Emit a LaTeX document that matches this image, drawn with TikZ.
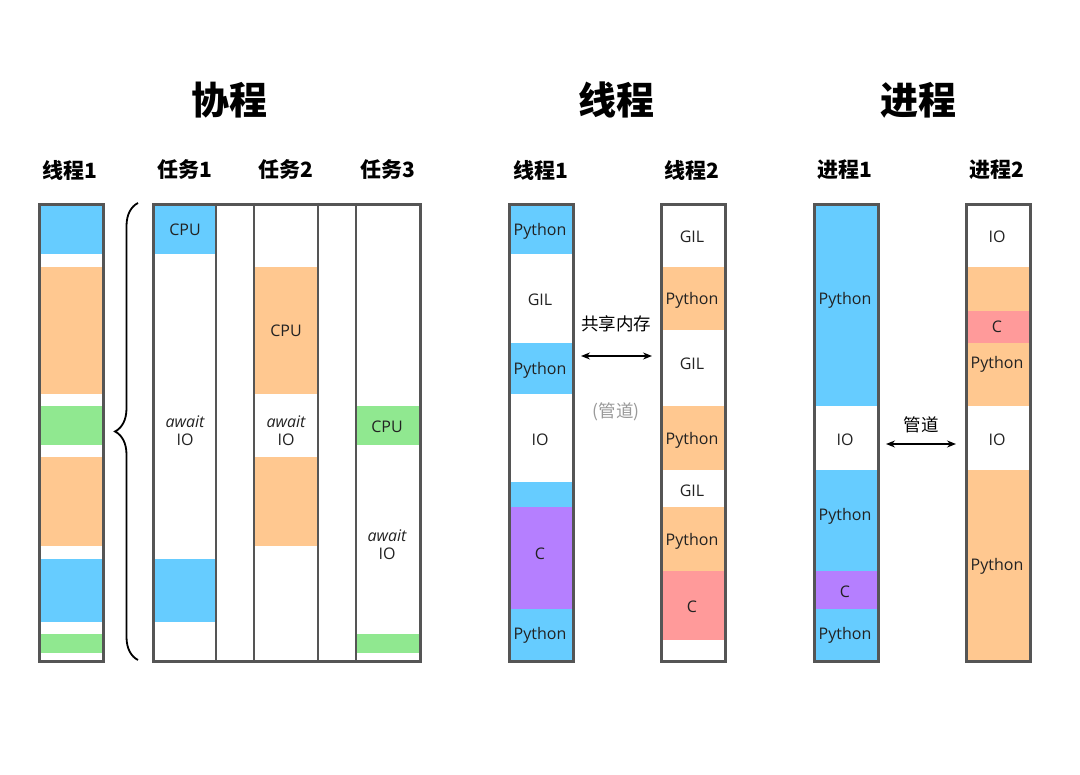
\documentclass[tikz,border=0pt]{standalone}
\usepackage{fontspec}
\setmainfont{Open Sans}
\newfontfamily\cjk{Noto Sans CJK SC}
\usetikzlibrary{arrows.meta,decorations.pathreplacing}
\definecolor{cblue}{HTML}{66CCFF}
\definecolor{corange}{HTML}{FFC890}
\definecolor{cgreen}{HTML}{90E890}
\definecolor{cpurple}{HTML}{B57FFF}
\definecolor{cred}{HTML}{FF9A9A}
\definecolor{cborder}{HTML}{555555}
\definecolor{cgray}{HTML}{999999}
\definecolor{ctext}{HTML}{222222}
\newcommand\band[5]{\fill[#5] (#1,#3) rectangle (#2,#4);}
\begin{document}
\begin{tikzpicture}[x=1pt,y=-1pt,
  colbox/.style={draw=cborder,line width=2.6pt,minimum width=64pt,minimum height=457pt,anchor=north west,inner sep=0pt},
  inline/.style={draw=cborder,line width=1.2pt},
  lab/.style={font=\fontsize{16}{19}\selectfont,inner sep=0pt,text=ctext,yshift=-1pt},
  itl/.style={font=\itshape\fontsize{16}{19}\selectfont,inner sep=0pt,text=ctext,yshift=-1pt},
  hdr/.style={font=\cjk\bfseries\fontsize{21}{24}\selectfont,inner sep=0pt},
  ttl/.style={font=\cjk\bfseries\fontsize{38}{42}\selectfont,inner sep=0pt},
  note/.style={font=\cjk\fontsize{17.5}{20}\selectfont,inner sep=0pt},
  dbl/.style={{Stealth[length=9pt,width=7pt,inset=3pt]}-{Stealth[length=9pt,width=7pt,inset=3pt]},line width=1.5pt}]
\useasboundingbox[fill=white] (0,0) rectangle (1080,775);

% ---------- titles ----------
\node[ttl] (t1) at (229,100) {协程};
\node[ttl] (t2) at (616,100) {线程};
\node[ttl] (t3) at (918,100) {进程};

% ---------- headers ----------
\node[hdr] (h1) at (70,170) {线程1};
\node[hdr] (h2) at (185,170) {任务1};
\node[hdr] (h3) at (286,170) {任务2};
\node[hdr] (h4) at (388,170) {任务3};
\node[hdr] (h5) at (541,170) {线程1};
\node[hdr] (h6) at (692,170) {线程2};
\node[hdr] (h7) at (845,170) {进程1};
\node[hdr] (h8) at (997,170) {进程2};

% ---------- coroutine: thread 1 ----------
\band{38}{102}{203}{254}{cblue}
\band{38}{102}{267}{394}{corange}
\band{38}{102}{406}{445}{cgreen}
\band{38}{102}{457}{546}{corange}
\band{38}{102}{559}{622}{cblue}
\band{38}{102}{634}{653}{cgreen}
\node[colbox] (l1) at (38,203) {};

% ---------- brace ----------
\draw[line width=1.8pt,decorate,decoration={brace,amplitude=23pt}] (138,660) -- (138,203);

% ---------- tasks ----------
\band{152}{216}{203}{254}{cblue}
\band{152}{216}{559}{622}{cblue}
\band{254}{318}{267}{394}{corange}
\band{254}{318}{457}{546}{corange}
\band{356}{419}{406}{445}{cgreen}
\band{356}{419}{634}{653}{cgreen}
\draw[inline] (216,203) -- (216,660);
\draw[inline] (254,203) -- (254,660);
\draw[inline] (318,203) -- (318,660);
\draw[inline] (356,203) -- (356,660);
\node[colbox,minimum width=267pt] (tasks) at (152,203) {};
\node[lab] (a1) at (185,229) {CPU};
\node[itl] (a2) at (185,421) {await};
\node[lab] (a3) at (185,439) {IO};
\node[lab] (b1) at (286,330) {CPU};
\node[itl] (b2) at (286,421) {await};
\node[lab] (b3) at (286,439) {IO};
\node[lab] (c1) at (387,426) {CPU};
\node[itl] (c2) at (387,535) {await};
\node[lab] (c3) at (387,553) {IO};

% ---------- threads ----------
\band{508}{572}{203}{254}{cblue}
\band{508}{572}{343}{394}{cblue}
\band{508}{572}{482}{507}{cblue}
\band{508}{572}{507}{609}{cpurple}
\band{508}{572}{609}{660}{cblue}
\node[colbox] (m1) at (508,203) {};
\node[lab] (m1a) at (540,230) {Python};
\node[lab] (m1b) at (540,299) {GIL};
\node[lab] (m1c) at (540,369) {Python};
\node[lab] (m1d) at (540,439) {IO};
\node[lab] (m1e) at (540,553) {C};
\node[lab] (m1f) at (540,634) {Python};

\band{660}{724}{267}{330}{corange}
\band{660}{724}{406}{470}{corange}
\band{660}{724}{507}{571}{corange}
\band{660}{724}{571}{640}{cred}
\node[colbox] (m2) at (660,203) {};
\node[lab] (m2a) at (692,236) {GIL};
\node[lab] (m2b) at (692,299) {Python};
\node[lab] (m2c) at (692,363) {GIL};
\node[lab] (m2d) at (692,439) {Python};
\node[lab] (m2e) at (692,490) {GIL};
\node[lab] (m2f) at (692,540) {Python};
\node[lab] (m2g) at (692,606) {C};

\coordinate (sa) at (581,356);
\coordinate (sb) at (652,356);
\draw[dbl] (sa) -- (sb);
\node[note] (shm) at (616,324) {共享内存};
\node[note,text=cgray] (pipe1) at (616,412) {(管道)};

% ---------- processes ----------
\band{813}{877}{203}{406}{cblue}
\band{813}{877}{470}{571}{cblue}
\band{813}{877}{571}{609}{cpurple}
\band{813}{877}{609}{660}{cblue}
\node[colbox] (p1) at (813,203) {};
\node[lab] (p1a) at (845,299) {Python};
\node[lab] (p1b) at (845,439) {IO};
\node[lab] (p1c) at (845,515) {Python};
\node[lab] (p1d) at (845,591) {C};
\node[lab] (p1e) at (845,634) {Python};

\band{965}{1029}{267}{311}{corange}
\band{965}{1029}{311}{343}{cred}
\band{965}{1029}{343}{406}{corange}
\band{965}{1029}{470}{660}{corange}
\node[colbox] (p2) at (965,203) {};
\node[lab] (p2a) at (997,236) {IO};
\node[lab] (p2b) at (997,326) {C};
\node[lab] (p2c) at (997,363) {Python};
\node[lab] (p2d) at (997,439) {IO};
\node[lab] (p2e) at (997,565) {Python};

\coordinate (pa) at (886,444);
\coordinate (pb) at (956,444);
\draw[dbl] (pa) -- (pb);
\node[note] (pipe2) at (921,425) {管道};
\end{tikzpicture}
\end{document}
